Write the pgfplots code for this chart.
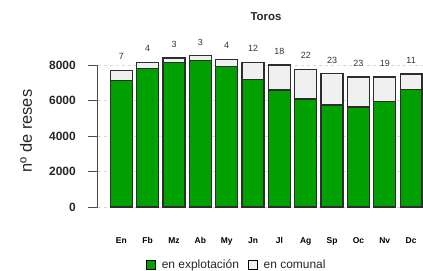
\documentclass[border=0pt]{standalone}
\usepackage{pgfplots}
\usepackage{pgfplotstable}
\pgfplotsset{compat=1.18}
\usepackage{fontspec}
\setmainfont{Liberation Sans}
\definecolor{verde}{RGB}{0,160,0}
\definecolor{gris}{RGB}{240,240,240}
\definecolor{borde}{RGB}{45,45,45}
\pgfplotstableread{
x green comunal total pct
0 7140 560 7700 7
1 7810 340 8150 4
2 8130 260 8390 3
3 8260 260 8520 3
4 7930 390 8320 4
5 7190 960 8150 12
6 6590 1410 8000 18
7 6090 1670 7760 22
8 5750 1760 7510 23
9 5630 1690 7320 23
10 5950 1370 7320 19
11 6630 860 7490 11
}\datos
\begin{document}
\begin{tikzpicture}
\begin{axis}[
  at={(0,0)}, anchor=south west,
  scale only axis, width=325bp, height=142bp,
  xmin=-0.885, xmax=11.45, ymin=0, ymax=8000,
  clip=false,
  ybar stacked, bar width=0.833,
  axis lines=left,
  axis line style={-, draw=black!70, line width=1bp},
  x axis line style={draw=none},
  xtick={0,...,11},
  xticklabels={En,Fb,Mz,Ab,My,Jn,Jl,Ag,Sp,Oc,Nv,Dc},
  xtick style={draw=none},
  xticklabel style={anchor=base, inner sep=0pt, yshift=-26bp, font=\fontsize{8.5}{10}\selectfont\bfseries},
  ytick={0,2000,4000,6000,8000},
  yticklabels={0,2000,4000,6000,8000},
  tick align=outside,
  major tick length=10bp,
  ytick style={draw=black!70, line width=1bp},
  yticklabel style={anchor=east, inner sep=0pt, xshift=-12bp, font=\fontsize{12}{14}\selectfont\bfseries, text=black!85},
  ymajorgrids,
  grid style={dashed, draw=black!15, line width=0.8bp},
  ylabel={nº de reses},
  every axis y label/.style={at={(axis description cs:-0.2215,0.535)}, anchor=center, rotate=90, font=\fontsize{16.5}{18}\selectfont, text=black!85},
  title={Toros},
  title style={at={(axis description cs:0.517,1.30)}, anchor=center, font=\fontsize{11.5}{13}\selectfont\bfseries, text=black!85},
  legend columns=2,
  legend style={draw=none, fill=none, at={(axis description cs:0.427,-0.408)}, anchor=center,
    font=\fontsize{12}{14}\selectfont, text=black!85,
    /tikz/every odd column/.append style={column sep=4bp},
    /tikz/every even column/.append style={column sep=7bp}},
]
\addplot[fill=verde, draw=borde, line width=1.3bp,
  legend image code/.code={\draw[fill=verde, draw=black, line width=0.8bp] (0bp,-4.5bp) rectangle (9bp,4.5bp);}]
  table[x=x, y=green] {\datos};
\addlegendentry{en explotación}
\addplot[fill=gris, draw=borde, line width=1.3bp,
  legend image code/.code={\draw[fill=gris, draw=black, line width=0.8bp] (0bp,-4.5bp) rectangle (9bp,4.5bp);}]
  table[x=x, y=comunal] {\datos};
\addlegendentry{en comunal}
\end{axis}
\begin{axis}[
  at={(0,0)}, anchor=south west,
  scale only axis, width=325bp, height=142bp,
  xmin=-0.885, xmax=11.45, ymin=0, ymax=8000,
  clip=false, hide axis,
]
\addplot[only marks, mark=none,
  nodes near coords={\pgfplotspointmeta},
  point meta=explicit symbolic,
  every node near coord/.append style={anchor=center, yshift=13.5bp, font=\fontsize{9}{10}\selectfont, text=black!80}]
  table[x=x, y=total, meta=pct] {\datos};
\end{axis}
\pgfresetboundingbox
\path (-98bp,-64bp) rectangle (325bp,207bp);
\end{tikzpicture}
\end{document}
